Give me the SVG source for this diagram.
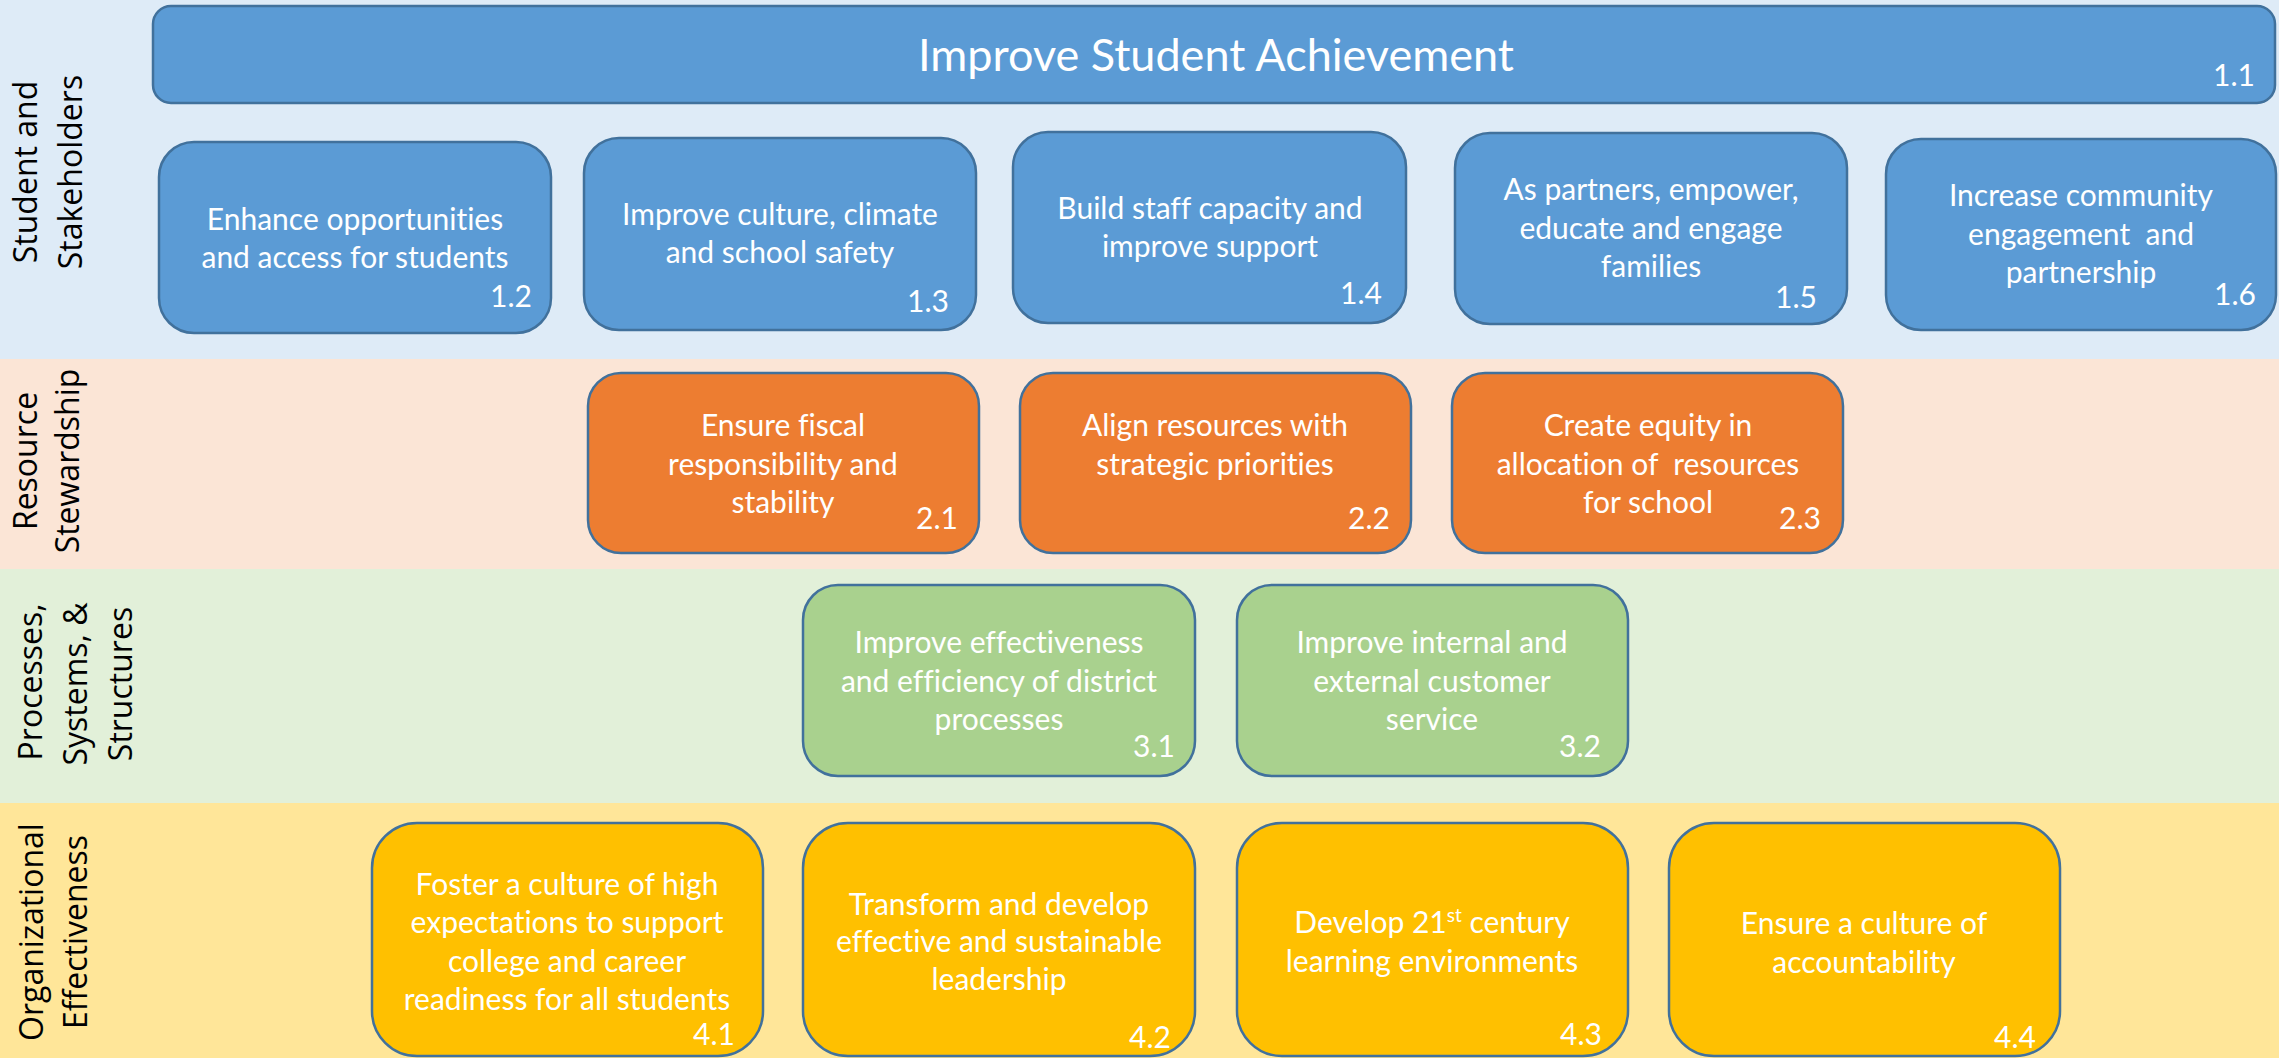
<svg xmlns="http://www.w3.org/2000/svg" width="2279" height="1058" viewBox="0 0 2279 1058">
<style>
text{font-variant-ligatures:none}
.band-label{font-family:"Open Sans","DejaVu Sans",sans-serif;font-size:32px;fill:#000;text-anchor:middle}
.box{stroke:#41719C;stroke-width:2.5}
.blue{fill:#5B9BD5}
.orange{fill:#ED7D31}
.green{fill:#A9D18E}
.yellow{fill:#FFC000}
.t{font-family:Lato,"Liberation Sans",sans-serif;font-size:30px;fill:#fff;text-anchor:middle}
.n{font-family:Lato,"Liberation Sans",sans-serif;font-size:30px;fill:#fff;text-anchor:end}
.title{font-family:Lato,"Liberation Sans",sans-serif;font-size:45px;fill:#fff;text-anchor:middle}
</style>
<g id="bands">
<rect x="0" y="0" width="2279" height="359" fill="#DEEBF7"/>
<rect x="0" y="359" width="2279" height="210" fill="#FBE5D6"/>
<rect x="0" y="569" width="2279" height="234" fill="#E2F0D9"/>
<rect x="0" y="803" width="2279" height="255" fill="#FFE699"/>
</g>
<g id="band-labels">
<text class="band-label" transform="translate(37,172) rotate(-90)">Student and</text>
<text class="band-label" transform="translate(82,172) rotate(-90)">Stakeholders</text>
<text class="band-label" transform="translate(37,461) rotate(-90)">Resource</text>
<text class="band-label" transform="translate(79,461) rotate(-90)">Stewardship</text>
<text class="band-label" transform="translate(42,682) rotate(-90)">Processes,</text>
<text class="band-label" transform="translate(87,684) rotate(-90)">Systems, &amp;</text>
<text class="band-label" transform="translate(132,684) rotate(-90)">Structures</text>
<text class="band-label" transform="translate(43,932) rotate(-90)">Organizational</text>
<text class="band-label" transform="translate(87,932) rotate(-90)">Effectiveness</text>
</g>
<g id="n1-1">
<rect class="box blue" x="153" y="6" width="2122" height="97" rx="18"/>
<text class="title" x="1216" y="71">Improve Student Achievement</text>
<text class="n" x="2255" y="86">1.1</text>
</g>
<g id="n1-2">
<rect class="box blue" x="159" y="142" width="392" height="191" rx="35"/>
<text class="t" x="355" y="230">Enhance opportunities</text>
<text class="t" x="355" y="268">and access for students</text>
<text class="n" x="532" y="307">1.2</text>
</g>
<g id="n1-3">
<rect class="box blue" x="584" y="138" width="392" height="192" rx="35"/>
<text class="t" x="780" y="225">Improve culture, climate</text>
<text class="t" x="780" y="263">and school safety</text>
<text class="n" x="949" y="312">1.3</text>
</g>
<g id="n1-4">
<rect class="box blue" x="1013" y="132" width="393" height="191" rx="35"/>
<text class="t" x="1210" y="219">Build staff capacity and</text>
<text class="t" x="1210" y="257">improve support</text>
<text class="n" x="1382" y="304">1.4</text>
</g>
<g id="n1-5">
<rect class="box blue" x="1455" y="133" width="392" height="191" rx="35"/>
<text class="t" x="1651" y="200">As partners, empower,</text>
<text class="t" x="1651" y="239">educate and engage</text>
<text class="t" x="1651" y="277">families</text>
<text class="n" x="1817" y="308">1.5</text>
</g>
<g id="n1-6">
<rect class="box blue" x="1886" y="139" width="390" height="191" rx="35"/>
<text class="t" x="2081" y="206">Increase community</text>
<text class="t" x="2081" y="245" xml:space="preserve">engagement  and</text>
<text class="t" x="2081" y="283">partnership</text>
<text class="n" x="2256" y="305">1.6</text>
</g>
<g id="n2-1">
<rect class="box orange" x="588" y="373" width="391" height="180" rx="33"/>
<text class="t" x="783" y="436">Ensure fiscal</text>
<text class="t" x="783" y="475">responsibility and</text>
<text class="t" x="783" y="513">stability</text>
<text class="n" x="958" y="529">2.1</text>
</g>
<g id="n2-2">
<rect class="box orange" x="1020" y="373" width="391" height="180" rx="33"/>
<text class="t" x="1215" y="436">Align resources with</text>
<text class="t" x="1215" y="475">strategic priorities</text>
<text class="n" x="1390" y="529">2.2</text>
</g>
<g id="n2-3">
<rect class="box orange" x="1452" y="373" width="391" height="180" rx="33"/>
<text class="t" x="1648" y="436">Create equity in</text>
<text class="t" x="1648" y="475" xml:space="preserve">allocation of  resources</text>
<text class="t" x="1648" y="513">for school</text>
<text class="n" x="1821" y="529">2.3</text>
</g>
<g id="n3-1">
<rect class="box green" x="803" y="585" width="392" height="191" rx="35"/>
<text class="t" x="999" y="653">Improve effectiveness</text>
<text class="t" x="999" y="692">and efficiency of district</text>
<text class="t" x="999" y="730">processes</text>
<text class="n" x="1175" y="757">3.1</text>
</g>
<g id="n3-2">
<rect class="box green" x="1237" y="585" width="391" height="191" rx="35"/>
<text class="t" x="1432" y="653">Improve internal and</text>
<text class="t" x="1432" y="692">external customer</text>
<text class="t" x="1432" y="730">service</text>
<text class="n" x="1601" y="757">3.2</text>
</g>
<g id="n4-1">
<rect class="box yellow" x="372" y="823" width="391" height="233" rx="45"/>
<text class="t" x="567" y="895">Foster a culture of high</text>
<text class="t" x="567" y="933">expectations to support</text>
<text class="t" x="567" y="972">college and career</text>
<text class="t" x="567" y="1010">readiness for all students</text>
<text class="n" x="735" y="1045">4.1</text>
</g>
<g id="n4-2">
<rect class="box yellow" x="803" y="823" width="392" height="233" rx="45"/>
<text class="t" x="999" y="915">Transform and develop</text>
<text class="t" x="999" y="952">effective and sustainable</text>
<text class="t" x="999" y="990">leadership</text>
<text class="n" x="1171" y="1048">4.2</text>
</g>
<g id="n4-3">
<rect class="box yellow" x="1237" y="823" width="391" height="233" rx="45"/>
<text class="t" x="1432" y="933">Develop 21<tspan font-size="19" dy="-11">st</tspan><tspan dy="11"> century</tspan></text>
<text class="t" x="1432" y="972">learning environments</text>
<text class="n" x="1602" y="1045">4.3</text>
</g>
<g id="n4-4">
<rect class="box yellow" x="1669" y="823" width="391" height="233" rx="45"/>
<text class="t" x="1864" y="934">Ensure a culture of</text>
<text class="t" x="1864" y="973">accountability</text>
<text class="n" x="2036" y="1048">4.4</text>
</g>
<g id="connectors"></g>
</svg>
